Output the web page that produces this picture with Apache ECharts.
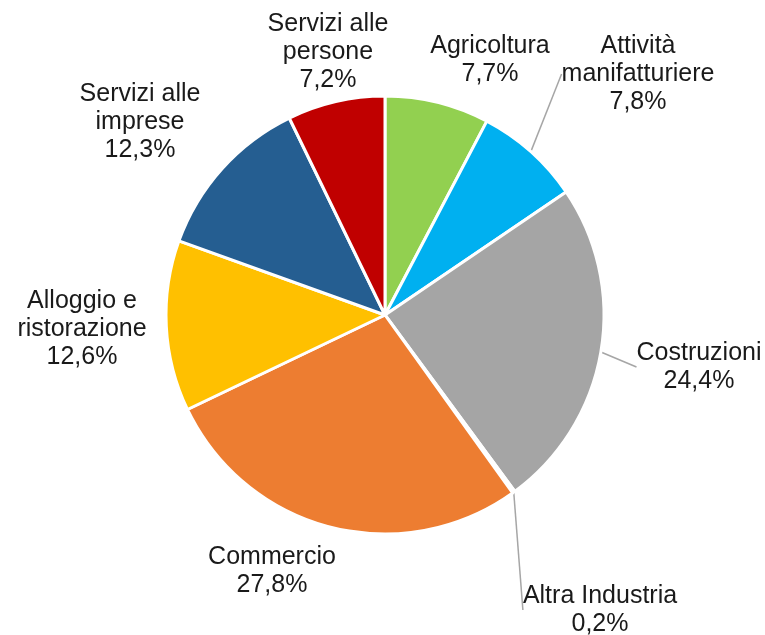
<!DOCTYPE html>
<html>
<head>
<meta charset="utf-8">
<script src="https://cdn.jsdelivr.net/npm/echarts@6/dist/echarts.min.js"></script>
<style>
  html, body { margin: 0; padding: 0; background: #fff; }
  #chart { width: 765px; height: 635px; }
</style>
</head>
<body>
<div id="chart"></div>
<script>
// Settori e quote percentuali
const settori = ['Agricoltura', 'Attività\nmanifatturiere', 'Costruzioni', 'Altra Industria',
  'Commercio', 'Alloggio e\nristorazione', 'Servizi alle\nimprese', 'Servizi alle\npersone'];
const quote = [7.7, 7.8, 24.4, 0.2, 27.8, 12.6, 12.3, 7.2];
const colori = ['#92D050', '#00B0F0', '#A5A5A5', '#A5A5A5', '#ED7D31', '#FFC000', '#255E91', '#C00000'];
const conLinea = [false, true, true, true, false, false, false, false];

// Posizione delle etichette (centro del testo)
const posEtichette = [[490, 60], [638, 74], [699, 367], [600, 610], [272, 571], [82, 329], [140, 122], [328, 52]];

const chart = echarts.init(document.getElementById('chart'));
chart.setOption({
  backgroundColor: '#fff',
  series: [{
    type: 'pie',
    center: [385, 315],
    radius: 219,
    startAngle: 90,
    clockwise: true,
    avoidLabelOverlap: false,
    itemStyle: { borderColor: '#fff', borderWidth: 3 },
    label: {
      show: true,
      position: 'outside',
      fontFamily: 'Liberation Sans, Arial, sans-serif',
      fontSize: 25,
      lineHeight: 28,
      color: '#1a1a1a',
      align: 'center',
      verticalAlign: 'middle',
      formatter: p => p.name + '\n' + p.value.toFixed(1).replace('.', ',') + '%'
    },
    labelLine: { show: true, length: 10, length2: 0, lineStyle: { color: '#A6A6A6', width: 1.5 } },
    labelLayout: function (p) {
      const pos = posEtichette[p.dataIndex];
      return { x: pos[0], y: pos[1], align: 'center', verticalAlign: 'middle' };
    },
    emphasis: { disabled: true },
    data: settori.map((s, i) => ({
      name: s,
      value: quote[i],
      itemStyle: { color: colori[i] },
      labelLine: { show: conLinea[i] }
    }))
  }]
});
</script>
</body>
</html>
